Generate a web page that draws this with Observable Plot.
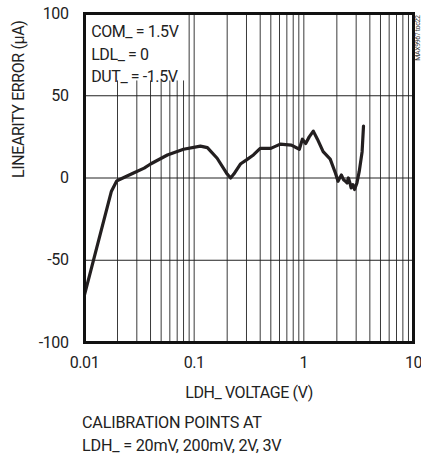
<!DOCTYPE html>
<html><head><meta charset="utf-8">
<script src="https://cdn.jsdelivr.net/npm/d3@7"></script>
<script src="https://cdn.jsdelivr.net/npm/@observablehq/plot@0.6"></script>
<style>
body{margin:0;background:#fff;}
#wrap{position:relative;width:421px;height:458px;font-family:Roboto,"Liberation Sans",sans-serif;}
.cap{position:absolute;left:82px;font-size:16.2px;color:#222;white-space:nowrap;letter-spacing:-0.2px;}
</style></head>
<body><div id="wrap"></div>
<script>
// LDH_ voltage (V) and linearity error (µA)
const voltage = [0.01,0.0176,0.0196,0.02,0.028,0.035,0.040,0.057,0.080,0.114,0.132,0.162,0.20,0.215,0.23,0.264,0.30,0.347,0.40,0.50,0.61,0.77,0.91,0.97,1.04,1.12,1.22,1.33,1.5,1.74,1.94,2.05,2.12,2.2,2.3,2.4,2.48,2.55,2.62,2.7,2.8,2.9,3.05,3.2,3.4,3.5];
const error   = [-71,-8,-2,-1.5,3,6,8.5,14,17.5,19.4,18.5,12,2.4,0,2.4,8.5,11,14,18,18,20.6,20,17.5,23.6,21,25,28.5,23.6,16,11.5,3,-2,0,1.8,-1,-2,-3,0,-2.5,-6,-4,-7,-3,4,16,31.5];
const yTicks = [-100,-50,0,50,100];
const xTickLabels = [0.01,0.1,1,10];
const xGrid = [];
for (const d of [0.01,0.1,1]) for (let k=1;k<=9;k++) xGrid.push(+(d*k).toPrecision(3));
xGrid.push(10);
const noteLines = ["COM_ = 1.5V","LDL_ = 0","DUT_ = -1.5V"];
const noteY = [89,75,61.5];
const noteBox = [{x1:0.01,x2:0.0885,y1:59,y2:100}];
const xLabel = "LDH_ VOLTAGE (V)";
const yLabel = "LINEARITY ERROR (µA)";
const captionLines = ["CALIBRATION POINTS AT","LDH_ = 20mV, 200mV, 2V, 3V"];
const tocLabel = "MAX9967 toc22";

const data = voltage.map((v,i)=>({v, e:error[i]}));
const font = `Roboto,"Liberation Sans",sans-serif`;

const chart = Plot.plot({
  width:421, height:458,
  marginLeft:84, marginRight:8, marginTop:13, marginBottom:116,
  style:{fontFamily:font, fontSize:"15.5px", color:"#222", background:"#fff", letterSpacing:"-0.4px"},
  x:{type:"log", domain:[0.01,10]},
  y:{domain:[-100,100]},
  marks:[
    Plot.ruleX(xGrid,{stroke:"#3a3a3a",strokeWidth:1}),
    Plot.ruleY(yTicks,{stroke:"#222",strokeWidth:1}),
    Plot.rect(noteBox,{x1:"x1",x2:"x2",y1:"y1",y2:"y2",fill:"#fff"}),
    Plot.text(noteLines,{x:0.0115,y:(d,i)=>noteY[i],text:d=>d,textAnchor:"start",fontSize:16,fill:"#222"}),
    Plot.line(data,{x:"v",y:"e",stroke:"#231f20",strokeWidth:3.2,strokeLinejoin:"round",strokeLinecap:"round"}),
    Plot.frame({stroke:"#111",strokeWidth:3}),
    Plot.axisX(xTickLabels,{tickSize:0,tickPadding:14,tickFormat:d=>String(d),fontSize:16,label:null}),
    Plot.axisY(yTicks,{tickSize:0,tickPadding:16,tickFormat:d=>String(d),fontSize:16,label:null}),
    Plot.text([xLabel],{frameAnchor:"bottom",dy:55,text:d=>d,fontSize:16,fill:"#222"}),
    Plot.text([yLabel],{frameAnchor:"left",dx:-66,rotate:-90,text:d=>d,fontSize:16,fill:"#222"}),
    Plot.text([tocLabel],{frameAnchor:"top-right",dx:2,dy:2,rotate:-90,textAnchor:"end",text:d=>d,fontSize:7,fill:"#333",letterSpacing:"0px"})
  ]
});
const wrap = document.getElementById("wrap");
wrap.appendChild(chart);
captionLines.forEach((t,i)=>{
  const d=document.createElement("div");
  d.className="cap"; d.textContent=t; d.style.top=(413+i*23)+"px";
  wrap.appendChild(d);
});
</script></body></html>
